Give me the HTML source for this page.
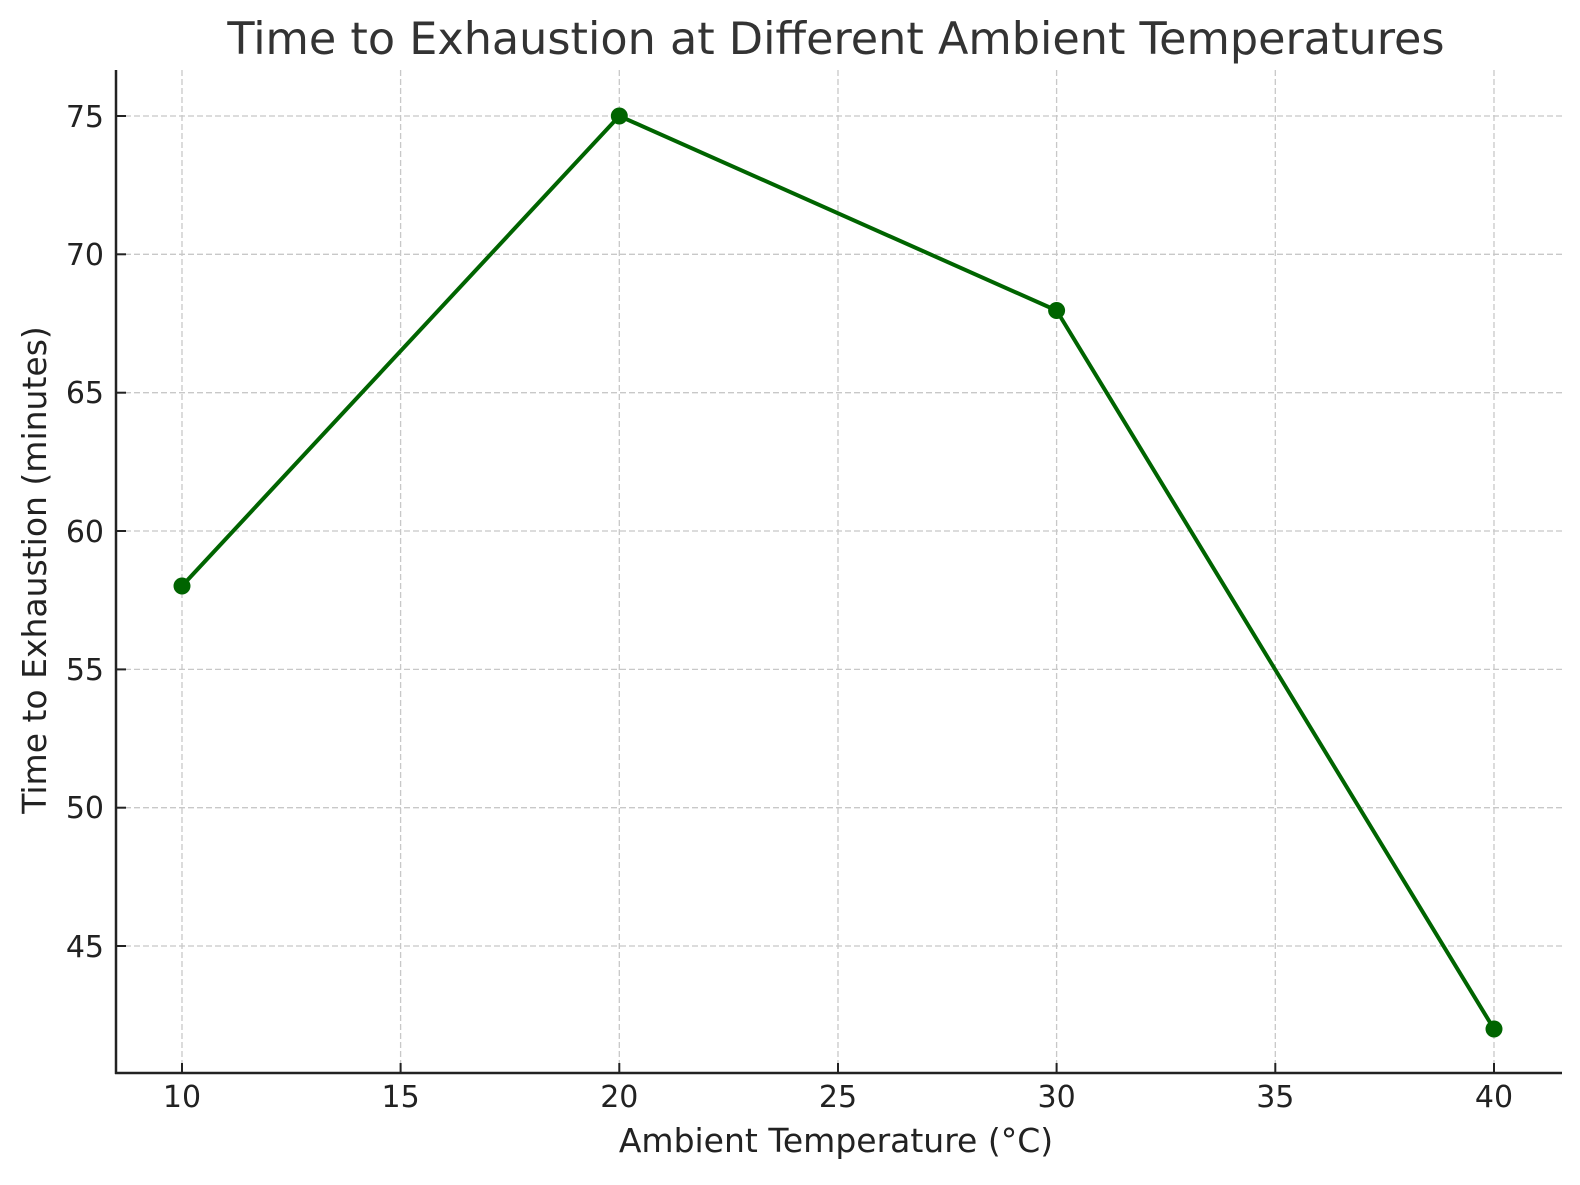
<!DOCTYPE html>
<html><head><meta charset="utf-8"><style>
body{margin:0;background:#fff}
text{font-family:"DejaVu Sans","Liberation Sans",sans-serif}
</style></head><body>
<svg width="1580" height="1180" xmlns="http://www.w3.org/2000/svg">
<rect width="1580" height="1180" fill="#fff"/>
<g stroke="#c8c8c8" stroke-width="1.3" stroke-dasharray="6,3">
<line x1="182" y1="70" x2="182" y2="1073"/>
<line x1="400.6" y1="70" x2="400.6" y2="1073"/>
<line x1="619.3" y1="70" x2="619.3" y2="1073"/>
<line x1="838" y1="70" x2="838" y2="1073"/>
<line x1="1056.6" y1="70" x2="1056.6" y2="1073"/>
<line x1="1275.3" y1="70" x2="1275.3" y2="1073"/>
<line x1="1494" y1="70" x2="1494" y2="1073"/>
<line x1="116" y1="116" x2="1562" y2="116"/>
<line x1="116" y1="254.3" x2="1562" y2="254.3"/>
<line x1="116" y1="392.7" x2="1562" y2="392.7"/>
<line x1="116" y1="531" x2="1562" y2="531"/>
<line x1="116" y1="669.4" x2="1562" y2="669.4"/>
<line x1="116" y1="807.7" x2="1562" y2="807.7"/>
<line x1="116" y1="946" x2="1562" y2="946"/>
</g>
<g stroke="#222" stroke-width="2.5">
<line x1="116" y1="70" x2="116" y2="1074"/>
<line x1="115" y1="1073" x2="1562" y2="1073"/>
</g>
<g stroke="#222" stroke-width="2">
<line x1="182" y1="1073" x2="182" y2="1063"/>
<line x1="400.6" y1="1073" x2="400.6" y2="1063"/>
<line x1="619.3" y1="1073" x2="619.3" y2="1063"/>
<line x1="838" y1="1073" x2="838" y2="1063"/>
<line x1="1056.6" y1="1073" x2="1056.6" y2="1063"/>
<line x1="1275.3" y1="1073" x2="1275.3" y2="1063"/>
<line x1="1494" y1="1073" x2="1494" y2="1063"/>
<line x1="116" y1="116" x2="126" y2="116"/>
<line x1="116" y1="254.3" x2="126" y2="254.3"/>
<line x1="116" y1="392.7" x2="126" y2="392.7"/>
<line x1="116" y1="531" x2="126" y2="531"/>
<line x1="116" y1="669.4" x2="126" y2="669.4"/>
<line x1="116" y1="807.7" x2="126" y2="807.7"/>
<line x1="116" y1="946" x2="126" y2="946"/>
</g>
<g font-size="30" fill="#222" text-anchor="middle">
<text x="182" y="1107">10</text>
<text x="400.6" y="1107">15</text>
<text x="619.3" y="1107">20</text>
<text x="838" y="1107">25</text>
<text x="1056.6" y="1107">30</text>
<text x="1275.3" y="1107">35</text>
<text x="1494" y="1107">40</text>
</g>
<g font-size="30" fill="#222" text-anchor="end">
<text x="104" y="127">75</text>
<text x="104" y="265">70</text>
<text x="104" y="403">65</text>
<text x="104" y="542">60</text>
<text x="104" y="680">55</text>
<text x="104" y="818">50</text>
<text x="104" y="957">45</text>
</g>
<text x="836" y="1152" font-size="33" fill="#222" text-anchor="middle">Ambient Temperature (°C)</text>
<text transform="translate(46,570) rotate(-90)" font-size="33" fill="#222" text-anchor="middle">Time to Exhaustion (minutes)</text>
<text x="836" y="54" font-size="44.5" fill="#333" text-anchor="middle">Time to Exhaustion at Different Ambient Temperatures</text>
<polyline points="182,586 619.3,116 1056.6,310.5 1494,1029" fill="none" stroke="#006400" stroke-width="4" stroke-linejoin="round"/>
<g fill="#006400">
<circle cx="182" cy="586" r="8.5"/>
<circle cx="619.3" cy="116" r="8.5"/>
<circle cx="1056.6" cy="310.5" r="8.5"/>
<circle cx="1494" cy="1029" r="8.5"/>
</g>
</svg>
</body></html>
